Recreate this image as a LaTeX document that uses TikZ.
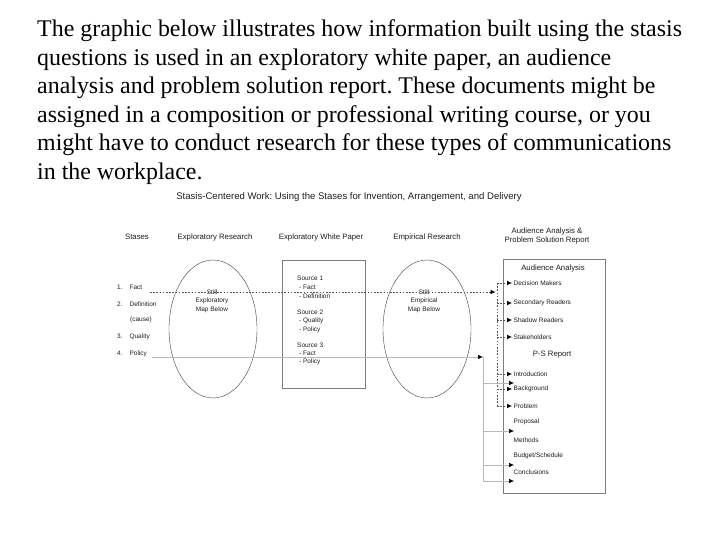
\documentclass[tikz,border=0pt]{standalone}
\usepackage{fontspec}
\setmainfont{Liberation Serif}
\newfontfamily\diagfont{Liberation Sans}
\usepackage{tikz}
\usetikzlibrary{arrows.meta,positioning,shapes.geometric}
\frenchspacing
\definecolor{Ink}{HTML}{1E1E1E}
\definecolor{Dots}{HTML}{555555}
\definecolor{Rule}{HTML}{B8B8B8}
\definecolor{Frame}{HTML}{7C7C7C}
\tikzset{
  title/.style={font=\diagfont\fontsize{9.6}{11}\selectfont,text=Ink,inner sep=0pt},
  head/.style={font=\diagfont\fontsize{7.8}{10}\selectfont,text=Ink,align=center,inner sep=0pt},
  small/.style={font=\diagfont\fontsize{6.5}{8.5}\selectfont,text=Ink,inner sep=0pt},
  item/.style={small,anchor=west,inner sep=1.5bp},
  map/.style={ellipse,draw=Ink!85,thin,minimum width=88bp,minimum height=138bp,inner sep=0pt},
  panel/.style={draw=Frame,line width=0.9bp,inner sep=0pt},
  dotLink/.style={draw=Dots,line width=0.6bp,dash pattern=on 1.6bp off 1.6bp},
  dotArrow/.style={dotLink,-{Latex[length=5bp,width=4.5bp,color=black]}},
  grayLink/.style={draw=Rule,line width=0.6bp},
  grayArrow/.style={grayLink,-{Latex[length=5bp,width=4.5bp,color=black]}}
}

\begin{document}
\begin{tikzpicture}[x=1bp,y=-1bp]
  \useasboundingbox[fill=white] (0,0) rectangle (720,540);
  \node[font=\fontsize{24}{28.6}\selectfont,align=left,anchor=north west,inner sep=0pt] (intro) at (37,19.6)
    {The graphic below illustrates how information built using the stasis\\questions is used in an exploratory white paper, an audience\\analysis and problem solution report. These documents might be\\assigned in a composition or professional writing course, or you\\might have to conduct research for these types of communications\\in the workplace.};
  \node[title] (ttl) at (349,197) {Stasis-Centered Work: Using the Stases for Invention, Arrangement, and Delivery};
  \node[head] (hStases) at (137,237) {Stases};
  \node[head] (hExpl) at (215,237) {Exploratory Research};
  \node[head] (hWhite) at (321,237) {Exploratory White Paper};
  \node[head] (hEmp) at (427,237) {Empirical Research};
  \node[head] (hAud) at (547,236) {Audience Analysis \&\\Problem Solution Report};
  \node[item,inner sep=0pt] (sFact) at (117,287) {1.\hspace{7bp}Fact};
  \node[item,inner sep=0pt] (sDef) at (117,304) {2.\hspace{7bp}Definition};
  \node[item,inner sep=0pt] (sCause) at (130,320) {(cause)};
  \node[item,inner sep=0pt] (sQual) at (117,337) {3.\hspace{7bp}Quality};
  \node[item,inner sep=0pt] (sPol) at (117,354) {4.\hspace{7bp}Policy};
  \node[map] (explMap) at (213,329) {};
  \node[small,align=center] (explTxt) at (212,301) {Still\\Exploratory\\Map Below};
  \node[panel,minimum width=83bp,minimum height=128bp] (paper) at (323.5,324) {};
  \node[item,inner sep=0pt] (src1) at (297,278) {Source 1};
  \node[item,inner sep=0pt] (src1a) at (299,287.5) {- Fact};
  \node[item,inner sep=0pt] (src1b) at (299,296) {- Definition};
  \node[item,inner sep=0pt] (src2) at (297,312) {Source 2};
  \node[item,inner sep=0pt] (src2a) at (299,321) {- Quality};
  \node[item,inner sep=0pt] (src2b) at (299,329.5) {- Policy};
  \node[item,inner sep=0pt] (src3) at (297,345.5) {Source 3};
  \node[item,inner sep=0pt] (src3a) at (299,353.5) {- Fact};
  \node[item,inner sep=0pt] (src3b) at (299,362) {- Policy};
  \node[map] (empMap) at (427,329) {};
  \node[small,align=center] (empTxt) at (424,301) {Still\\Empirical\\Map Below};
  \node[panel,minimum width=102bp,minimum height=234bp] (report) at (554,376) {};
  \node[head] (audTtl) at (553,268) {Audience Analysis};
  \node[item] (dm) at (512,283) {Decision Makers};
  \node[item] (sec) at (512,303) {Secondary Readers};
  \node[item] (sha) at (512,320) {Shadow Readers};
  \node[item] (stk) at (512,337) {Stakeholders};
  \node[head] (psTtl) at (552,355) {P-S Report};
  \node[item] (intr) at (512,374) {Introduction};
  \node[item] (bkg) at (512,389) {Background};
  \node[item] (prob) at (512,406) {Problem};
  \node[item] (prop) at (512,422) {Proposal};
  \node[item] (meth) at (512,440) {Methods};
  \node[item] (bud) at (512,456) {Budget/Schedule};
  \node[item] (conc) at (512,472) {Conclusions};
  \coordinate (factRow) at (150,292);
  \coordinate (dotBus) at (497,292);
  \coordinate (dotTop) at (497,283);
  \coordinate (polRow) at (152,357);
  \coordinate (grayBus) at (483,357);
  \draw[dotArrow] (factRow) -- ([xshift=-1.5bp]dotBus);
  \draw[dotLink] (dotTop) -- (dotTop|-prob.west);
  \foreach \n in {dm,sec,sha,stk,intr,bkg,prob} \draw[dotArrow] (dotTop|-\n.west) -- (\n.west);
  \draw[grayArrow] (polRow) -- (grayBus);
  \draw[grayLink] (grayBus) -- ([yshift=-10bp]grayBus|-conc.west);
  \draw[grayArrow] ([yshift=6bp]grayBus|-bkg.west) -- ([xshift=2bp,yshift=6bp]bkg.west);
  \foreach \n in {prop,bud,conc} \draw[grayArrow] ([yshift=-9bp]grayBus|-\n.west) -- ([xshift=2bp,yshift=-9bp]\n.west);
\end{tikzpicture}
\end{document}
